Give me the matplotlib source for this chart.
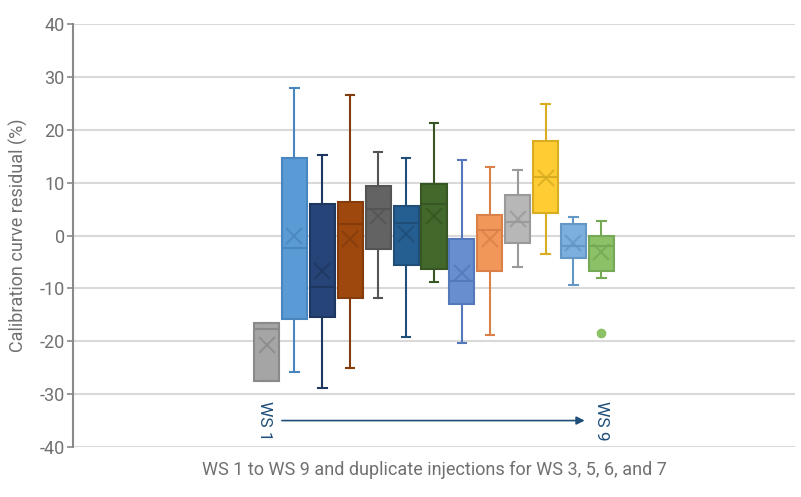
import matplotlib.pyplot as plt

plt.rcParams['font.family'] = ['Roboto', 'DejaVu Sans']
plt.rcParams['axes.unicode_minus'] = False

# box statistics (residual %)
whisk_hi = [-16.6, 27.9, 15.3, 26.5, 15.7, 14.6, 21.3, 14.3, 12.9, 12.3, 24.8, 3.5, 2.7]
q3 = [-16.6, 14.6, 6.0, 6.3, 9.4, 5.5, 9.7, -0.7, 3.8, 7.7, 17.8, 2.1, 0.0]
medians = [-17.7, -2.4, -9.7, 2.1, 5.0, 2.4, 6.0, -8.6, 1.1, 2.5, 11.1, -1.9, -1.9]
q1 = [-27.6, -15.7, -15.4, -11.9, -2.5, -5.6, -6.3, -12.9, -6.7, -1.4, 4.2, -4.2, -6.7]
whisk_lo = [-27.6, -25.8, -28.9, -25.0, -11.9, -19.2, -8.7, -20.3, -18.8, -5.9, -3.5, -9.4, -8.0]
means = [-20.7, 0.0, -6.7, -0.7, 3.7, 0.3, 3.6, -7.0, -0.7, 3.1, 10.8, -1.5, -3.2]
outliers = [[], [], [], [], [], [], [], [], [], [], [], [], [-18.5]]

fills = ['#A5A5A5', '#5B9BD5', '#264478', '#9E480E', '#636363', '#255E91', '#43682B',
         '#698ED0', '#F1975A', '#B7B7B7', '#FFCD33', '#7CAFDD', '#8CC168']
edges = ['#8A8A8A', '#4A86BE', '#1E3760', '#843C0C', '#545454', '#1F4E79', '#375623',
         '#5577BB', '#D98148', '#9A9A9A', '#D9AD22', '#6497C4', '#76A955']

stats = []
for i in range(len(medians)):
    stats.append(dict(med=medians[i], q1=q1[i], q3=q3[i], whislo=whisk_lo[i],
                      whishi=whisk_hi[i], mean=means[i], fliers=outliers[i]))

fig = plt.figure(figsize=(8.01, 4.97), dpi=100)
ax = fig.add_axes([0.0911, 0.1006, 0.9014, 0.8511])

for i, s in enumerate(stats):
    ax.bxp([s], positions=[i + 1], widths=0.9, patch_artist=True, showmeans=True,
           boxprops=dict(facecolor=fills[i], edgecolor=edges[i], linewidth=1.5),
           medianprops=dict(color=edges[i], linewidth=1.5),
           whiskerprops=dict(color=edges[i], linewidth=1.5),
           capprops=dict(color=edges[i], linewidth=1.5),
           capwidths=0.3,
           meanprops=dict(marker='x', markersize=11, markeredgecolor=edges[i],
                          markeredgewidth=1.5, alpha=0.8),
           flierprops=dict(marker='o', markersize=6, markerfacecolor=fills[i],
                           markeredgecolor=fills[i]),
           zorder=3)

ax.set_xlim(-5.94, 19.94)
ax.set_ylim(-40, 40)
ax.set_yticks(range(-40, 41, 10))
ax.set_xticks([])
ax.yaxis.grid(True, color='#D9D9D9', linewidth=1.5, zorder=0)
ax.set_axisbelow(True)
for sp in ['top', 'right', 'bottom']:
    ax.spines[sp].set_visible(False)
ax.spines['left'].set_color('#898989')
ax.spines['left'].set_linewidth(1.5)
ax.tick_params(axis='y', colors='#898989', labelcolor='#707070', labelsize=13,
               length=4, width=1.2, pad=2)

ax.set_ylabel('Calibration curve residual (%)', fontsize=13, color='#707070', labelpad=8)
ax.set_xlabel('WS 1 to WS 9 and duplicate injections for WS 3, 5, 6, and 7',
              fontsize=13, color='#707070', labelpad=10)

ax.text(0.93, -35, 'WS 1', rotation=-90, ha='center', va='center', fontsize=12.5, color='#1F4E79')
ax.text(13.0, -35, 'WS 9', rotation=-90, ha='center', va='center', fontsize=12.5, color='#1F4E79')
ax.annotate('', xy=(12.5, -35), xytext=(1.45, -35),
            arrowprops=dict(arrowstyle='-|>', color='#1F4E79', lw=1.2, mutation_scale=12))

fig.savefig('out.png', dpi=100)
